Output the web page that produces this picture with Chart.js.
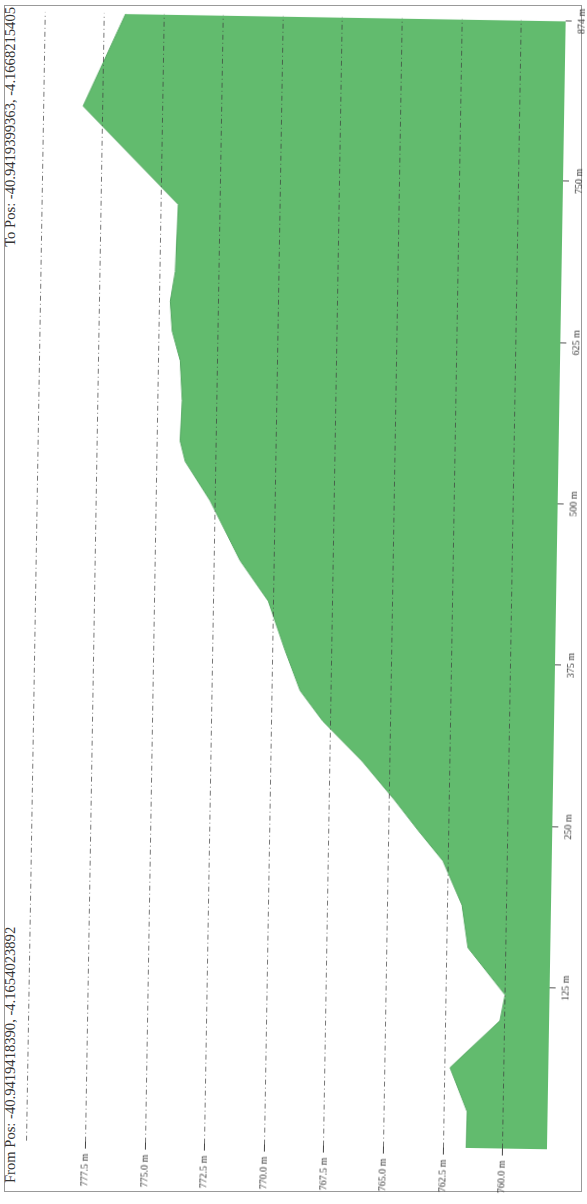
<!DOCTYPE html>
<html><head><meta charset="utf-8">
<script src="https://cdn.jsdelivr.net/npm/chart.js@4.4.0/dist/chart.umd.min.js"></script>
<style>
html,body{margin:0;padding:0;background:#fff;overflow:hidden;width:587px;height:1204px;}
#page{position:absolute;left:0;top:0;width:587px;height:1204px;transform:rotate(0.95deg);}
.rot{position:absolute;left:0;top:0;width:1204px;height:587px;transform-origin:0 0;transform:translate(0,1204px) rotate(-90deg);}
#frame{position:absolute;left:12px;top:4px;width:1187px;height:578px;border:1px solid #999;box-sizing:border-box;}
.ttl{position:absolute;top:2px;font:14.6px "Liberation Serif",serif;color:#333;white-space:nowrap;}
canvas{position:absolute;left:0;top:0;}
</style></head>
<body>
<div class="rot" id="plain"><div id="frame"></div>
<div class="ttl" id="from" style="left:21px"></div>
<div class="ttl" id="to" style="right:7px"></div></div>
<div id="page"><div class="rot">
<canvas id="c" width="1204" height="587"></canvas></div></div>
<script>
const fromLabel = "From Pos: -40.9419418390, -4.1654023892";
const toLabel = "To Pos: -40.9419399363, -4.1668215405";
const distances = [0, 28, 62, 99, 119, 155, 188, 222, 245, 268, 298, 329, 352, 383, 421, 452, 498, 528, 544, 575, 606, 629, 652, 675, 727, 802, 874];
const elevations = [761.53, 761.51, 762.26, 760.20, 760.0, 761.59, 761.87, 762.70, 763.75, 764.75, 766.15, 767.85, 768.81, 769.47, 770.21, 771.42, 772.72, 773.79, 774.02, 773.96, 774.07, 774.43, 774.53, 774.34, 774.26, 778.32, 776.60];
const distanceTicks = [125, 250, 375, 500, 625, 750, 874];
const elevationTicks = [760, 762.5, 765, 767.5, 770, 772.5, 775, 777.5, 780];
const unlabeledElevation = 780;

document.getElementById('from').textContent = fromLabel;
document.getElementById('to').textContent = toLabel;

const font = {family: '"Liberation Serif", serif', size: 10};
new Chart(document.getElementById('c'), {
  type: 'line',
  data: {datasets: [{
    data: distances.map((d, i) => ({x: d, y: elevations[i]})),
    fill: 'start',
    backgroundColor: '#62bb6e',
    borderColor: '#55a862',
    borderWidth: 1,
    pointRadius: 0,
    tension: 0
  }]},
  options: {
    responsive: false, animation: false, devicePixelRatio: 1,
    layout: {padding: {top: 35, right: 15, left: 0, bottom: 0}},
    plugins: {legend: {display: false}, tooltip: {enabled: false}},
    scales: {
      x: {
        type: 'linear', min: 0, max: 874,
        afterBuildTicks: s => { s.ticks = distanceTicks.map(v => ({value: v})); },
        afterFit: s => { s.height = 31; },
        ticks: {callback: v => v + ' m', maxRotation: 0, autoSkip: false, font, color: '#333', padding: 4},
        grid: {drawOnChartArea: false, drawTicks: true, tickLength: 6, color: '#555'},
        border: {display: false}
      },
      y: {
        type: 'linear', min: 758.14, max: 780,
        afterBuildTicks: s => { s.ticks = elevationTicks.map(v => ({value: v})); },
        afterFit: s => { s.width = 59; },
        ticks: {callback: v => v === unlabeledElevation ? '' : v.toFixed(1) + ' m', autoSkip: false, font, color: '#333', padding: 5},
        grid: {z: 1, color: 'rgba(60,60,60,0.7)', lineWidth: 1, tickLength: 7,
               tickColor: ctx => (ctx.tick && ctx.tick.value === unlabeledElevation) ? 'transparent' : '#444'},
        border: {display: false, dash: [5, 3, 1, 3]}
      }
    }
  }
});
</script>
</body></html>
